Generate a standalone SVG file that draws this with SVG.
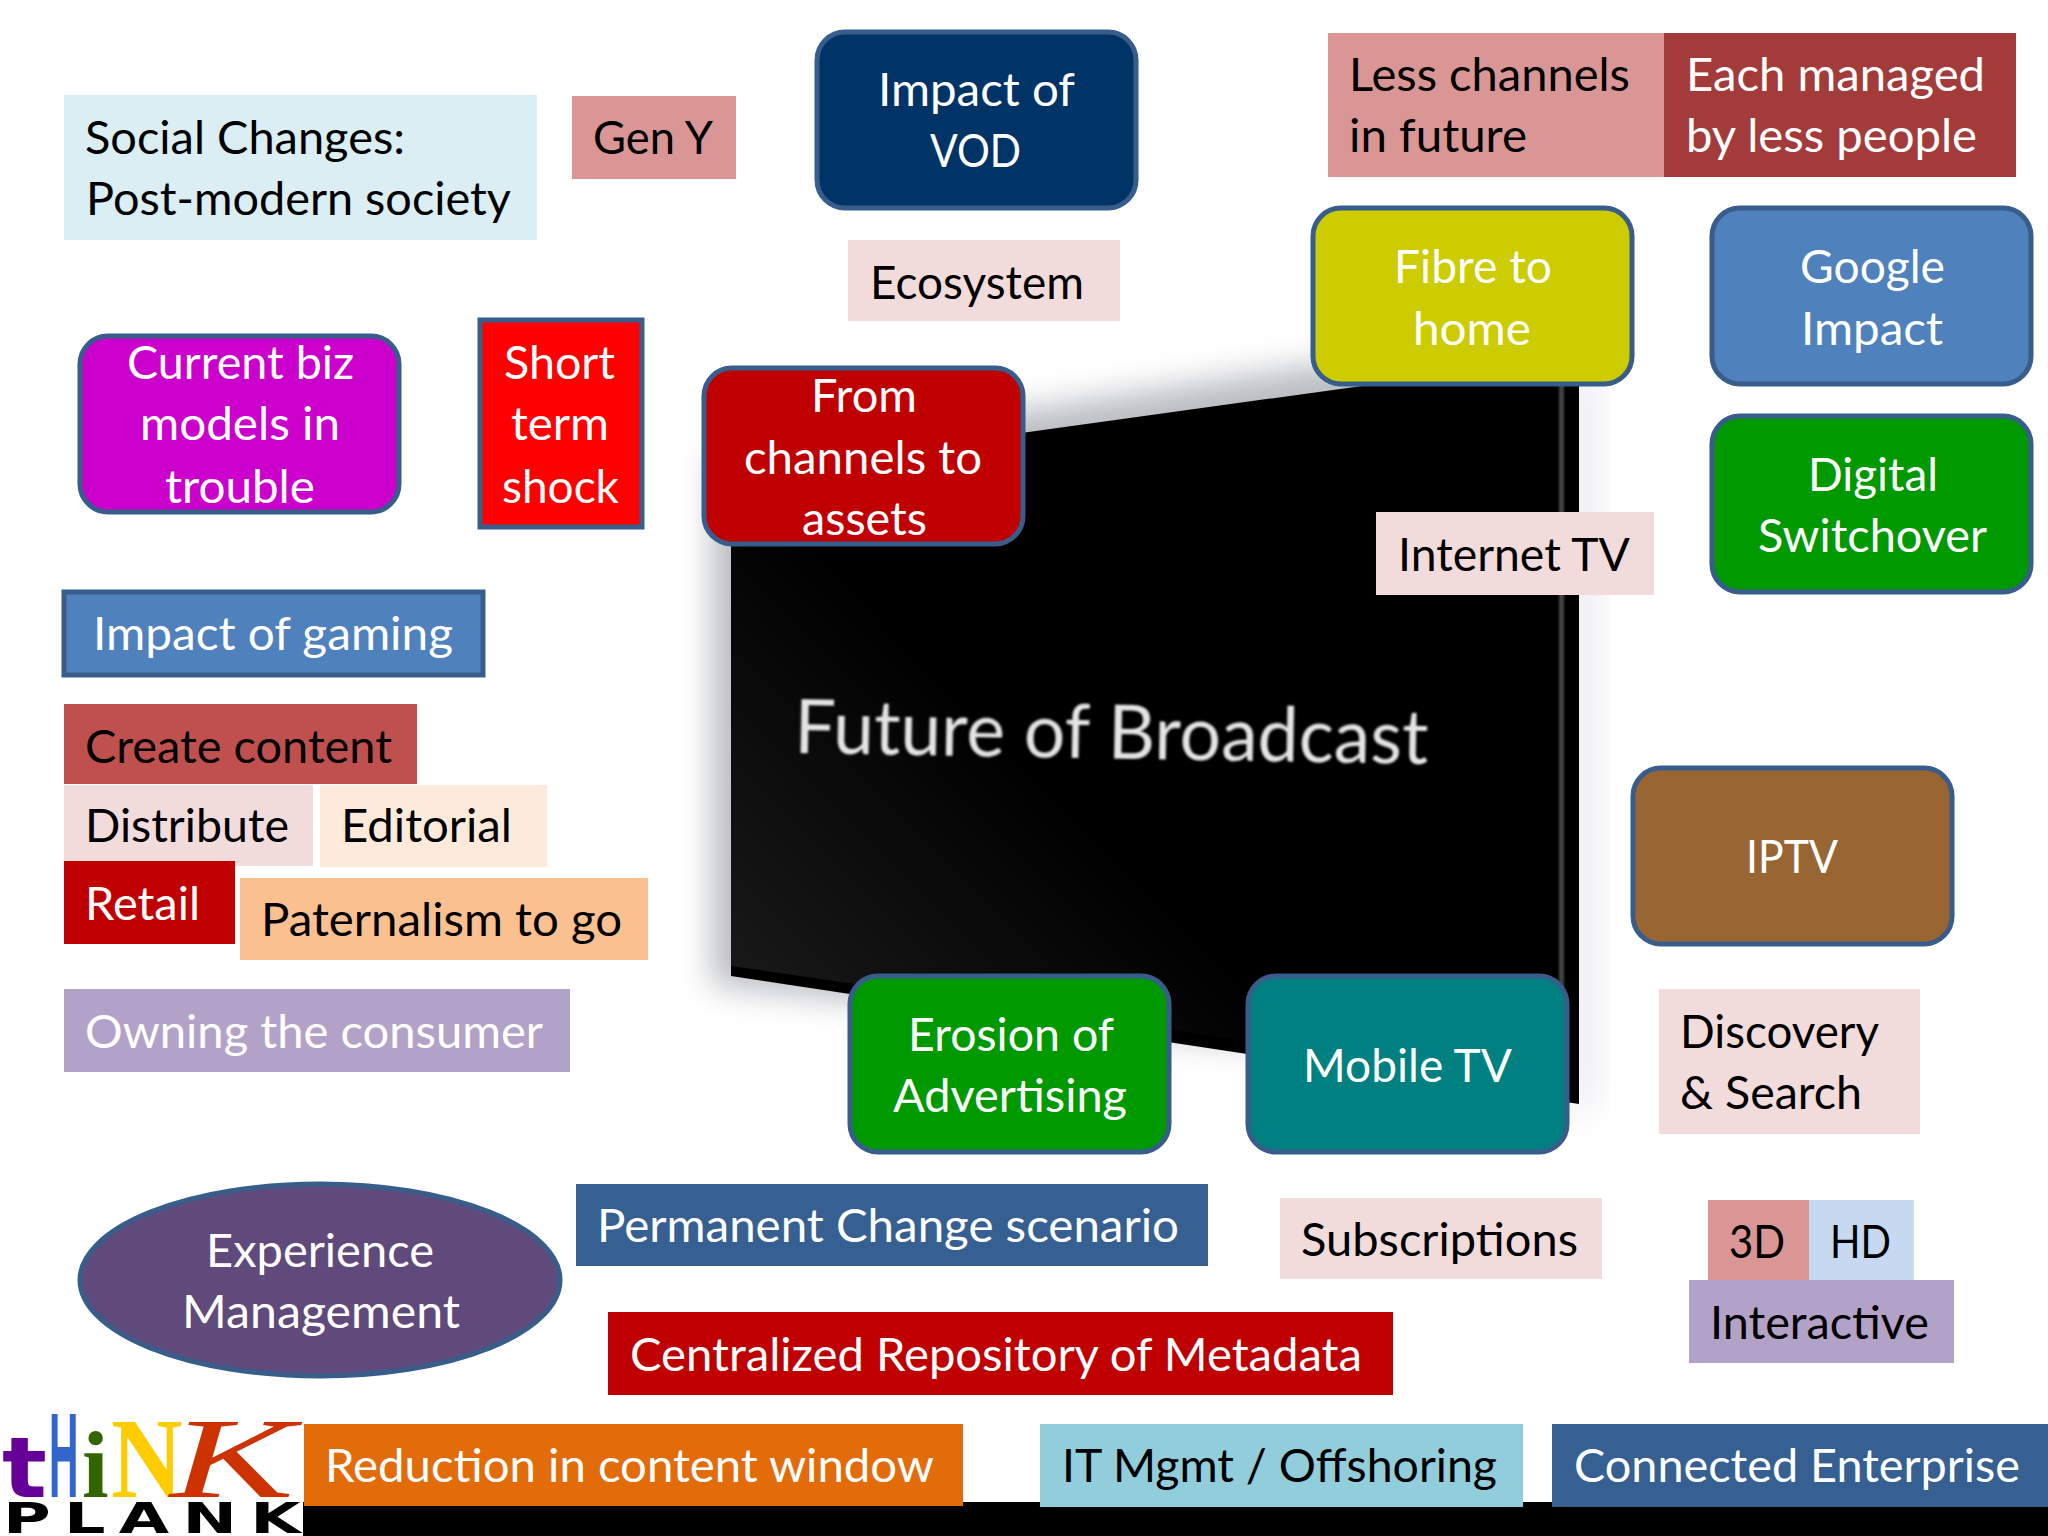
<svg xmlns="http://www.w3.org/2000/svg" width="2048" height="1536" viewBox="0 0 2048 1536">
<style>
text{font-family:"Lato","Carlito","Open Sans",sans-serif;font-size:46px}
.w{fill:#fff}.k{fill:#000}
.s{stroke:#385d8a;stroke-width:5}
.logo{font-family:"DejaVu Sans","Liberation Sans",sans-serif;font-weight:bold}
</style>
<defs>
<filter id="sh" x="-20%" y="-20%" width="140%" height="140%"><feGaussianBlur stdDeviation="16"/></filter>
<filter id="bl" x="-5%" y="-20%" width="110%" height="140%"><feGaussianBlur stdDeviation="1.2"/></filter>
<filter id="st" x="-200%" y="-5%" width="500%" height="110%"><feGaussianBlur stdDeviation="1.2"/></filter>
<linearGradient id="scr" x1="0" y1="1" x2=".45" y2=".45"><stop offset="0" stop-color="#1c1c1d"/><stop offset="1" stop-color="#000"/></linearGradient>
</defs>
<rect width="2048" height="1536" fill="#fff"/>
<g id="screen">
<polygon points="1565,370 1602,370 1602,1090 1565,1130" fill="#e8e6ec" opacity=".7" filter="url(#sh)"/>
<polygon points="712,458 1400,352 1400,1060 712,985" fill="#8c9096" opacity=".6" filter="url(#sh)"/>
<polygon points="731,473 1579,356 1579,1104 731,976" fill="#000"/>
<polygon points="731,473 1240,405 1240,1040 731,966" fill="url(#scr)"/>
<rect x="1559" y="384" width="5" height="700" fill="#444" filter="url(#st)"/>
<text x="794" y="753" textLength="634" lengthAdjust="spacingAndGlyphs" transform="rotate(1 794 753)" fill="#e4e4e4" filter="url(#bl)" style="font-size:76px">Future of Broadcast</text>
</g>
<g id="connectors"/>
<g id="social"><rect x="64" y="95" width="473" height="145" fill="#daeef3"/><text x="85" y="154" textLength="320" lengthAdjust="spacingAndGlyphs" class="k">Social Changes:</text><text x="86" y="215" textLength="425" lengthAdjust="spacingAndGlyphs" class="k">Post-modern society</text></g>
<g id="geny"><rect x="572" y="96" width="164" height="83" fill="#d99694"/><text x="593" y="154" textLength="120" lengthAdjust="spacingAndGlyphs" class="k">Gen Y</text></g>
<g id="vod"><rect x="817" y="32" width="319" height="176" rx="28" fill="#003366" class="s"/><text x="878" y="106" textLength="197" lengthAdjust="spacingAndGlyphs" class="w">Impact of</text><text x="930" y="167" textLength="91" lengthAdjust="spacingAndGlyphs" class="w">VOD</text></g>
<g id="less"><rect x="1328" y="33" width="336" height="144" fill="#d99694"/><text x="1349" y="91" textLength="281" lengthAdjust="spacingAndGlyphs" class="k">Less channels</text><text x="1349" y="152" textLength="178" lengthAdjust="spacingAndGlyphs" class="k">in future</text></g>
<g id="each"><rect x="1664" y="33" width="352" height="144" fill="#a33b3a"/><text x="1686" y="91" textLength="299" lengthAdjust="spacingAndGlyphs" class="w">Each managed</text><text x="1686" y="152" textLength="291" lengthAdjust="spacingAndGlyphs" class="w">by less people</text></g>
<g id="ecosystem"><rect x="848" y="240" width="272" height="81" fill="#f2dcdb"/><text x="870" y="299" textLength="214" lengthAdjust="spacingAndGlyphs" class="k">Ecosystem</text></g>
<g id="fibre"><rect x="1313" y="208" width="319" height="176" rx="28" fill="#cccc00" class="s"/><text x="1394" y="283" textLength="158" lengthAdjust="spacingAndGlyphs" class="w">Fibre to</text><text x="1413" y="345" textLength="118" lengthAdjust="spacingAndGlyphs" class="w">home</text></g>
<g id="google"><rect x="1712" y="208" width="319" height="176" rx="28" fill="#4f81bd" class="s"/><text x="1800" y="283" textLength="145" lengthAdjust="spacingAndGlyphs" class="w">Google</text><text x="1801" y="345" textLength="142" lengthAdjust="spacingAndGlyphs" class="w">Impact</text></g>
<g id="digital"><rect x="1712" y="416" width="319" height="176" rx="28" fill="#009900" class="s"/><text x="1808" y="491" textLength="130" lengthAdjust="spacingAndGlyphs" class="w">Digital</text><text x="1758" y="552" textLength="229" lengthAdjust="spacingAndGlyphs" class="w">Switchover</text></g>
<g id="biz"><rect x="80" y="336" width="319" height="176" rx="28" fill="#cc00cc" class="s"/><text x="127" y="379" textLength="227" lengthAdjust="spacingAndGlyphs" class="w">Current biz</text><text x="140" y="440" textLength="200" lengthAdjust="spacingAndGlyphs" class="w">models in</text><text x="165" y="503" textLength="150" lengthAdjust="spacingAndGlyphs" class="w">trouble</text></g>
<g id="shock"><rect x="480" y="320" width="162" height="207" fill="#ff0000" class="s"/><text x="504" y="379" textLength="111" lengthAdjust="spacingAndGlyphs" class="w">Short</text><text x="511" y="440" textLength="98" lengthAdjust="spacingAndGlyphs" class="w">term</text><text x="502" y="503" textLength="117" lengthAdjust="spacingAndGlyphs" class="w">shock</text></g>
<g id="assets"><rect x="704" y="368" width="319" height="176" rx="28" fill="#c00000" class="s"/><text x="811" y="412" textLength="106" lengthAdjust="spacingAndGlyphs" class="w">From</text><text x="744" y="474" textLength="238" lengthAdjust="spacingAndGlyphs" class="w">channels to</text><text x="802" y="535" textLength="125" lengthAdjust="spacingAndGlyphs" class="w">assets</text></g>
<g id="gaming"><rect x="64" y="592" width="419" height="83" fill="#4f81bd" class="s"/><text x="93" y="650" textLength="360" lengthAdjust="spacingAndGlyphs" class="w">Impact of gaming</text></g>
<g id="internet"><rect x="1376" y="512" width="278" height="83" fill="#f2dcdb"/><text x="1398" y="571" textLength="232" lengthAdjust="spacingAndGlyphs" class="k">Internet TV</text></g>
<g id="create"><rect x="64" y="704" width="353" height="80" fill="#c0504d"/><text x="85" y="763" textLength="307" lengthAdjust="spacingAndGlyphs" class="k">Create content</text></g>
<g id="distribute"><rect x="64" y="785" width="249" height="81" fill="#f2dcdb"/><text x="85" y="842" textLength="204" lengthAdjust="spacingAndGlyphs" class="k">Distribute</text></g>
<g id="editorial"><rect x="320" y="785" width="227" height="82" fill="#fdeada"/><text x="341" y="842" textLength="171" lengthAdjust="spacingAndGlyphs" class="k">Editorial</text></g>
<g id="retail"><rect x="64" y="861" width="171" height="83" fill="#c00000"/><text x="85" y="920" textLength="115" lengthAdjust="spacingAndGlyphs" class="w">Retail</text></g>
<g id="paternalism"><rect x="240" y="878" width="408" height="82" fill="#fac090"/><text x="261" y="936" textLength="361" lengthAdjust="spacingAndGlyphs" class="k">Paternalism to go</text></g>
<g id="owning"><rect x="64" y="989" width="506" height="83" fill="#b3a2c7"/><text x="85" y="1048" textLength="458" lengthAdjust="spacingAndGlyphs" class="w">Owning the consumer</text></g>
<g id="iptv"><rect x="1633" y="768" width="319" height="176" rx="28" fill="#996633" class="s"/><text x="1746" y="873" textLength="92" lengthAdjust="spacingAndGlyphs" class="w">IPTV</text></g>
<g id="erosion"><rect x="850" y="976" width="319" height="176" rx="28" fill="#009900" class="s"/><text x="908" y="1051" textLength="206" lengthAdjust="spacingAndGlyphs" class="w">Erosion of</text><text x="893" y="1112" textLength="234" lengthAdjust="spacingAndGlyphs" class="w">Advertising</text></g>
<g id="mobile"><rect x="1248" y="976" width="319" height="176" rx="28" fill="#008080" class="s"/><text x="1303" y="1082" textLength="209" lengthAdjust="spacingAndGlyphs" class="w">Mobile TV</text></g>
<g id="discovery"><rect x="1659" y="989" width="261" height="145" fill="#f2dcdb"/><text x="1680" y="1048" textLength="199" lengthAdjust="spacingAndGlyphs" class="k">Discovery</text><text x="1680" y="1109" textLength="182" lengthAdjust="spacingAndGlyphs" class="k">&amp; Search</text></g>
<g id="experience"><ellipse cx="320" cy="1280" rx="240" ry="96" fill="#604a7b" class="s"/><text x="206" y="1267" textLength="228" lengthAdjust="spacingAndGlyphs" class="w">Experience</text><text x="182" y="1328" textLength="278" lengthAdjust="spacingAndGlyphs" class="w">Management</text></g>
<g id="permanent"><rect x="576" y="1184" width="632" height="82" fill="#376092"/><text x="597" y="1242" textLength="582" lengthAdjust="spacingAndGlyphs" class="w">Permanent Change scenario</text></g>
<g id="subscriptions"><rect x="1280" y="1198" width="322" height="81" fill="#f2dcdb"/><text x="1301" y="1256" textLength="277" lengthAdjust="spacingAndGlyphs" class="k">Subscriptions</text></g>
<g id="n3d"><rect x="1708" y="1200" width="101" height="81" fill="#d99694"/><text x="1729" y="1258" textLength="56" lengthAdjust="spacingAndGlyphs" class="k">3D</text></g>
<g id="hd"><rect x="1809" y="1200" width="105" height="81" fill="#c6d9f1"/><text x="1830" y="1258" textLength="61" lengthAdjust="spacingAndGlyphs" class="k">HD</text></g>
<g id="interactive"><rect x="1689" y="1280" width="265" height="83" fill="#b3a2c7"/><text x="1710" y="1339" textLength="219" lengthAdjust="spacingAndGlyphs" class="k">Interactive</text></g>
<g id="metadata"><rect x="608" y="1312" width="785" height="83" fill="#c00000"/><text x="630" y="1371" textLength="732" lengthAdjust="spacingAndGlyphs" class="w">Centralized Repository of Metadata</text></g>
<g id="bar"><rect x="303" y="1502" width="1745" height="34" fill="#000"/></g>
<g id="reduction"><rect x="304" y="1424" width="659" height="82" fill="#e36c0a"/><text x="325" y="1482" textLength="609" lengthAdjust="spacingAndGlyphs" class="w">Reduction in content window</text></g>
<g id="it"><rect x="1040" y="1424" width="483" height="83" fill="#92cddc"/><text x="1062" y="1482" textLength="435" lengthAdjust="spacingAndGlyphs" class="k">IT Mgmt / Offshoring</text></g>
<g id="connected"><rect x="1552" y="1424" width="496" height="83" fill="#376092"/><text x="1574" y="1482" textLength="446" lengthAdjust="spacingAndGlyphs" class="w">Connected Enterprise</text></g>
<g id="logo">
<text class="logo" transform="translate(2 1497) scale(1.12 1)" style="font-size:84px" fill="#660099">t</text>
<text transform="translate(49 1497) scale(.34 1)" style="font-family:'Liberation Sans',sans-serif;font-weight:bold;font-size:120px" fill="#3366cc">H</text>
<text transform="translate(82 1497)" style="font-family:'Liberation Serif',serif;font-weight:bold;font-size:96px" fill="#336600">i</text>
<text transform="translate(111 1497) scale(.86 1)" style="font-family:'Liberation Serif',serif;font-weight:bold;font-size:115px" fill="#ffcc00">N</text>
<text transform="translate(170 1497) scale(1.62 1)" style="font-family:'Liberation Serif',serif;font-style:italic;font-size:115px" fill="#cc3300">K</text>
<text class="logo" transform="translate(3 1533) scale(1.55 1)" textLength="192" lengthAdjust="spacing" x="0" y="0" style="font-size:42px" fill="#000">PLANK</text>
</g>
</svg>
